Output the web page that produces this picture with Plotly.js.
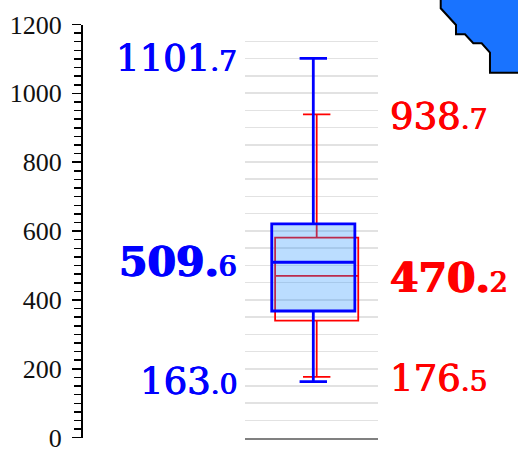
<!DOCTYPE html>
<html>
<head>
<meta charset="utf-8">
<script src="https://cdn.plot.ly/plotly-3.0.1.min.js"></script>
<style>html,body{margin:0;padding:0;background:#fff;}#chart{width:518px;height:461px;}</style>
</head>
<body>
<div id="chart"></div>
<script>
// Series names
const seriesNames = ["blue", "red"];
// Box statistics
const lowerFence = [163.0, 176.5];
const q1Values = [368, 340];
const medianValues = [509.6, 470.2];
const q3Values = [621, 581];
const upperFence = [1101.7, 938.7];
// Axis tick labels
const yTickValues = [0, 200, 400, 600, 800, 1000, 1200];
const yTickLabels = ["0", "200", "400", "600", "800", "1000", "1200"];

const colors = {blue: "#0000ff", red: "#ff0000"};
const fills = {blue: "rgba(30,144,255,0.3)", red: "rgba(0,0,0,0)"};
const lineW = {blue: 2.8, red: 1.8};
const xPos = {blue: 0.027, red: 0.078};

function makeBox(i) {
  const n = seriesNames[i];
  return {
    type: "box",
    name: n,
    x: [xPos[n]],
    q1: [q1Values[i]],
    median: [medianValues[i]],
    q3: [q3Values[i]],
    lowerfence: [lowerFence[i]],
    upperfence: [upperFence[i]],
    width: 1.25,
    whiskerwidth: 0.33,
    boxpoints: false,
    line: {color: colors[n], width: lineW[n]},
    fillcolor: fills[n],
    hoverinfo: "skip",
    showlegend: false,
    xaxis: "x",
    yaxis: "y"
  };
}
// red underneath, blue on top
const data = [makeBox(1), makeBox(0)];

function labelText(v, bold, small) {
  const s = v.toFixed(1);
  const parts = s.split(".");
  if (bold) {
    return "<b>" + parts[0] + ".</b><span style='font-size:" + small + "px'>" + parts[1] + "</span>";
  }
  return parts[0] + "<span style='font-size:" + small + "px'>." + parts[1] + "</span>";
}

const annFont = "DejaVu Serif";
const annotations = [];
const sideX = {blue: 239/518, red: 388/518};
const sideAnchor = {blue: "right", red: "left"};
const sideShift = {blue: 0, red: -2};
for (let i = 0; i < seriesNames.length; i++) {
  const n = seriesNames[i];
  const c = colors[n];
  const vals = [upperFence[i], medianValues[i], lowerFence[i]];
  vals.forEach((v, k) => {
    const bold = (k === 1);
    const big = bold ? 41 : 37;
    annotations.push({
      xref: "paper", yref: "y",
      x: sideX[n], y: v,
      xanchor: sideAnchor[n], yanchor: "middle",
      yshift: sideShift[n],
      text: labelText(v, bold, 28),
      showarrow: false,
      font: {family: annFont, size: big, color: c,
             shadow: bold ? ("0.8px 0 0 " + c + ", -0.8px 0 0 " + c) : ("0.6px 0 0 " + c + ", -0.4px 0 0 " + c)}
    });
  });
}

const P = (x, y) => (x/518).toFixed(4) + "," + (1 - y/461).toFixed(4);
const cornerPath = "M " + P(440.7,-5) + " L " + P(440.7,8.3) + " L " + P(456,25) + " L " + P(456,34.3) +
  " L " + P(465,34.3) + " L " + P(473.3,43.3) + " L " + P(481.7,43.3) + " L " + P(490,52.7) +
  " L " + P(490,72.7) + " L " + P(525,72.7) + " L " + P(525,-5) + " Z";

const layout = {
  width: 518, height: 461,
  margin: {l: 0, r: 0, t: 0, b: 0, pad: 0},
  paper_bgcolor: "#ffffff",
  plot_bgcolor: "rgba(0,0,0,0)",
  showlegend: false,
  boxmode: "overlay",
  xaxis: {
    domain: [245/518, 378/518],
    range: [-1, 1],
    showline: true, linecolor: "#808080", linewidth: 2,
    showticklabels: false, ticks: "", showgrid: false, zeroline: false,
    fixedrange: true
  },
  yaxis: {
    domain: [1 - 437.7/461, 1 - 24.5/461],
    range: [0, 1200],
    anchor: "free", position: 81/518,
    showline: true, linecolor: "#000", linewidth: 1.5,
    tickmode: "array", tickvals: yTickValues, ticktext: yTickLabels,
    ticks: "outside", ticklen: 9, tickwidth: 1.5, tickcolor: "#000",
    minor: {dtick: 25, ticks: "outside", ticklen: 7, tickwidth: 1.5, tickcolor: "#000", showgrid: false},
    ticklabelstandoff: 5,
    tickfont: {family: "Liberation Serif", size: 26, color: "#111"},
    showgrid: false, zeroline: false
  },
  yaxis2: {
    domain: [1 - 437.7/461, 1 - 24.5/461],
    overlaying: "y", anchor: "x",
    range: [0, 1199],
    dtick: 50, tick0: 0,
    showgrid: true, gridcolor: "#e2e2e2", gridwidth: 1.5,
    showticklabels: false, ticks: "", showline: false, zeroline: false
  },
  annotations: annotations,
  shapes: [{
    type: "path", xref: "paper", yref: "paper",
    path: cornerPath,
    fillcolor: "rgb(25,115,255)",
    line: {color: "#000", width: 2}
  }]
};

// invisible trace so the grid axis is active
data.unshift({type: "scatter", x: [], y: [], xaxis: "x", yaxis: "y2", showlegend: false, hoverinfo: "skip"});

Plotly.newPlot("chart", data, layout, {staticPlot: true, displayModeBar: false});
</script>
</body>
</html>
